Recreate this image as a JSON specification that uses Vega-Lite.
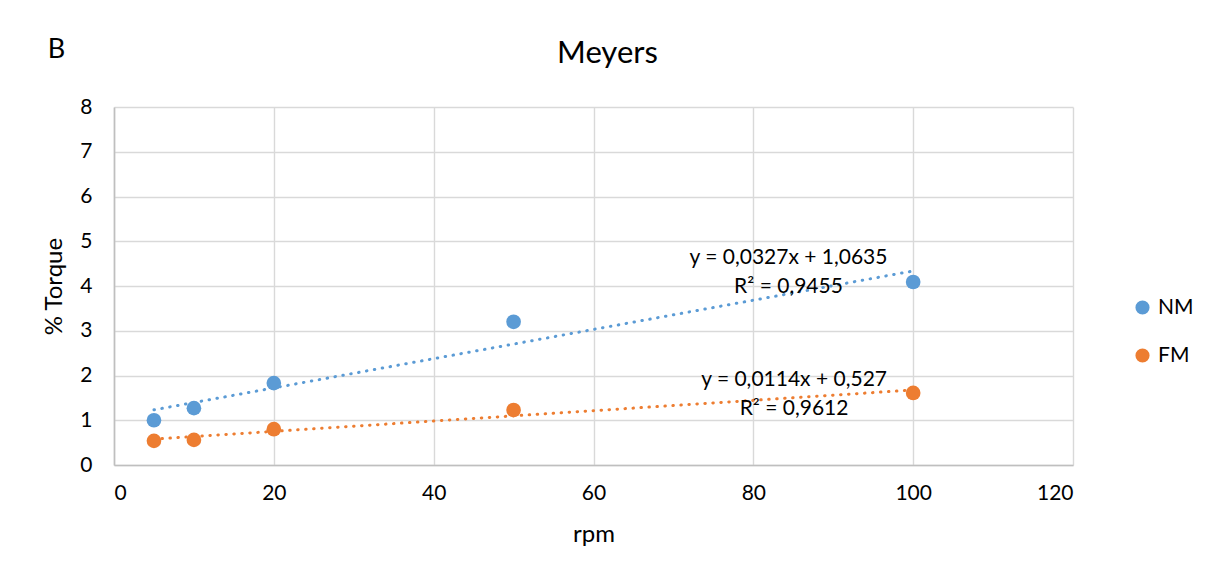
{
  "$schema": "https://vega.github.io/schema/vega-lite/v6.json",
  "width": 959,
  "height": 358,
  "autosize": {"type": "none"},
  "padding": {"left": 114, "top": 107, "right": 143, "bottom": 115},
  "background": "white",
  "title": {
    "text": "Meyers",
    "font": "Lato",
    "fontSize": 31,
    "fontWeight": "normal",
    "color": "#000000",
    "anchor": "middle",
    "frame": "group",
    "dx": 14,
    "dy": 66,
    "offset": 32
  },
  "datasets": {
    "torque": [
      {"series": "NM", "rpm": 5, "torque": 1.0},
      {"series": "NM", "rpm": 10, "torque": 1.27},
      {"series": "NM", "rpm": 20, "torque": 1.83},
      {"series": "NM", "rpm": 50, "torque": 3.2},
      {"series": "NM", "rpm": 100, "torque": 4.09},
      {"series": "FM", "rpm": 5, "torque": 0.54},
      {"series": "FM", "rpm": 10, "torque": 0.56},
      {"series": "FM", "rpm": 20, "torque": 0.8},
      {"series": "FM", "rpm": 50, "torque": 1.23},
      {"series": "FM", "rpm": 100, "torque": 1.61}
    ],
    "fits": [
      {"series": "NM", "rpm": 84.4, "torque": 4.62, "label": "y = 0,0327x + 1,0635\nR² = 0,9455"},
      {"series": "FM", "rpm": 85.1, "torque": 1.91, "label": "y = 0,0114x + 0,527\nR² = 0,9612"}
    ]
  },
  "config": {
    "font": "Lato",
    "view": {"stroke": null},
    "axis": {
      "labelFont": "Lato",
      "labelFontSize": 21,
      "labelColor": "#000000",
      "titleFont": "Lato",
      "titleFontSize": 24,
      "titleFontWeight": "normal",
      "titleColor": "#000000",
      "gridColor": "#d9d9d9",
      "gridWidth": 1.4,
      "domainColor": "#bfbfbf",
      "domainWidth": 1.6,
      "ticks": false
    },
    "legend": {
      "labelFont": "Lato",
      "labelFontSize": 21,
      "labelColor": "#000000"
    }
  },
  "layer": [
    {
      "data": {"name": "torque"},
      "transform": [
        {"filter": "datum.series === 'NM'"},
        {"regression": "torque", "on": "rpm", "extent": [5, 100]}
      ],
      "mark": {"type": "line", "color": "#5b9bd5", "strokeWidth": 3, "strokeDash": [0.5, 7.5], "strokeCap": "round"},
      "encoding": {
        "x": {"field": "rpm", "type": "quantitative"},
        "y": {"field": "torque", "type": "quantitative"}
      }
    },
    {
      "data": {"name": "torque"},
      "transform": [
        {"filter": "datum.series === 'FM'"},
        {"regression": "torque", "on": "rpm", "extent": [5, 100]}
      ],
      "mark": {"type": "line", "color": "#ed7d31", "strokeWidth": 3, "strokeDash": [0.5, 7.5], "strokeCap": "round"},
      "encoding": {
        "x": {"field": "rpm", "type": "quantitative"},
        "y": {"field": "torque", "type": "quantitative"}
      }
    },
    {
      "data": {"name": "torque"},
      "mark": {"type": "circle", "size": 215, "opacity": 1},
      "encoding": {
        "x": {
          "field": "rpm",
          "type": "quantitative",
          "scale": {"domain": [0, 120], "nice": false},
          "axis": {"values": [0, 20, 40, 60, 80, 100, 120], "title": "rpm", "labelPadding": 17, "titlePadding": 19}
        },
        "y": {
          "field": "torque",
          "type": "quantitative",
          "scale": {"domain": [0, 8], "nice": false},
          "axis": {"values": [0, 1, 2, 3, 4, 5, 6, 7, 8], "title": "% Torque", "labelPadding": 22, "titlePadding": 13}
        },
        "color": {
          "field": "series",
          "type": "nominal",
          "scale": {"domain": ["NM", "FM"], "range": ["#5b9bd5", "#ed7d31"]},
          "legend": {
            "title": null,
            "orient": "none",
            "legendX": 1018,
            "legendY": 190,
            "symbolType": "circle",
            "symbolSize": 200,
            "rowPadding": 26,
            "labelOffset": 5,
            "padding": 0
          }
        }
      }
    },
    {
      "data": {"name": "fits"},
      "mark": {"type": "text", "align": "center", "baseline": "middle", "lineBreak": "\n", "lineHeight": 29, "fontSize": 21, "font": "Lato", "color": "#000000"},
      "encoding": {
        "x": {"field": "rpm", "type": "quantitative"},
        "y": {"field": "torque", "type": "quantitative"},
        "text": {"field": "label"}
      }
    },
    {
      "data": {"values": [{"panel": "B"}]},
      "mark": {"type": "text", "align": "left", "baseline": "middle", "fontSize": 27, "font": "Lato", "color": "#000000"},
      "encoding": {
        "x": {"datum": -8.3},
        "y": {"datum": 9.27},
        "text": {"field": "panel"}
      }
    }
  ]
}
